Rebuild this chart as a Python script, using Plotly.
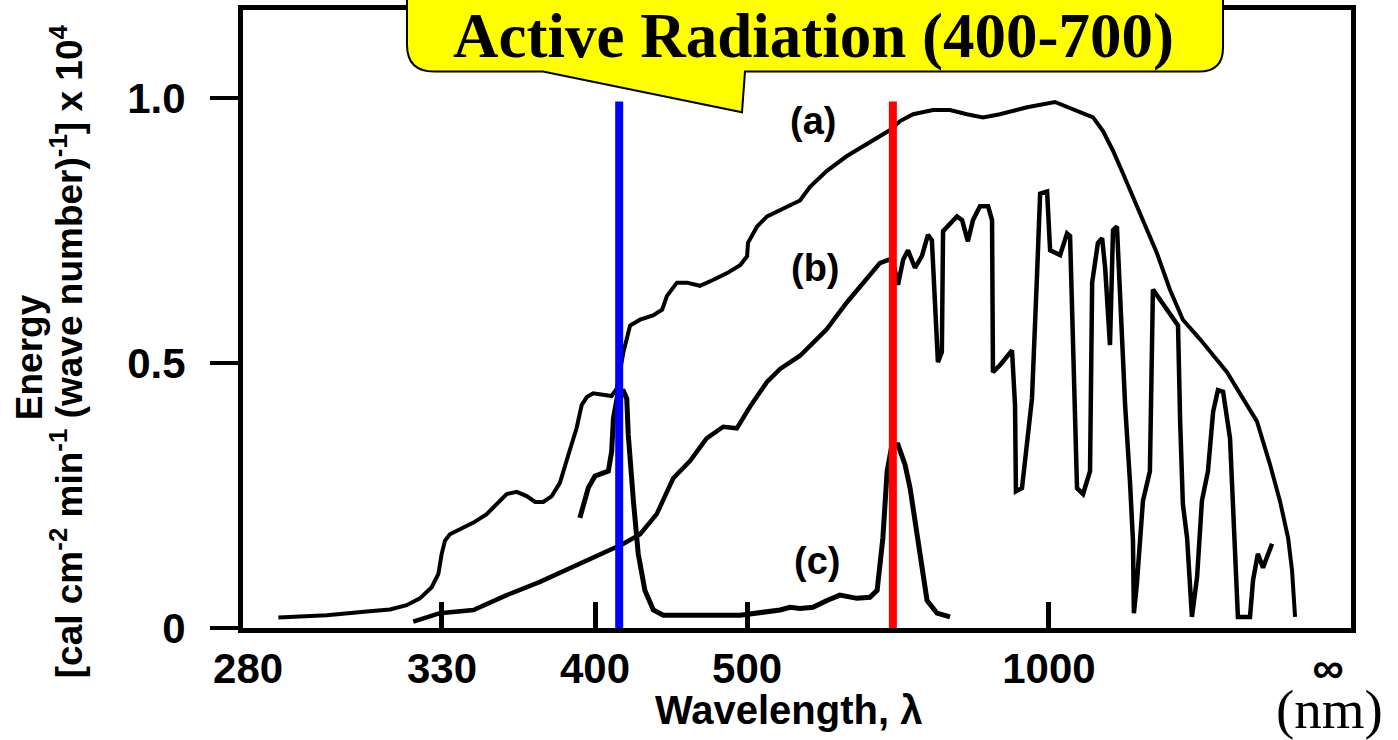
import plotly.graph_objects as go

# ---- data (x = wave number, 1/um ; y = energy, x10^4 units) ----
wn_a = [3.547, 3.387, 3.255, 3.178, 3.123, 3.079, 3.040, 3.018, 3.007, 2.996, 2.980, 2.946,
        2.902, 2.858, 2.814, 2.792, 2.759, 2.726, 2.698, 2.671, 2.643, 2.616, 2.588, 2.561,
        2.544, 2.527, 2.506, 2.478, 2.445, 2.428, 2.406, 2.384, 2.351, 2.308, 2.278, 2.262,
        2.229, 2.196, 2.153, 2.110, 2.063, 2.020, 1.997, 1.994, 1.964, 1.931, 1.865, 1.822,
        1.789, 1.733, 1.667, 1.601, 1.524, 1.491, 1.448, 1.382, 1.326, 1.270, 1.217, 1.161,
        1.071, 0.979, 0.919, 0.853, 0.820, 0.787, 0.754, 0.721, 0.698, 0.642, 0.599, 0.556,
        0.499, 0.410, 0.357, 0.311, 0.268, 0.235, 0.208, 0.195, 0.185]
en_a = [0.020, 0.024, 0.031, 0.035, 0.043, 0.056, 0.077, 0.102, 0.140, 0.165, 0.177, 0.187,
        0.199, 0.215, 0.240, 0.253, 0.257, 0.249, 0.238, 0.238, 0.249, 0.274, 0.327, 0.377,
        0.421, 0.436, 0.443, 0.441, 0.438, 0.452, 0.521, 0.571, 0.582, 0.590, 0.601, 0.627,
        0.652, 0.652, 0.646, 0.657, 0.670, 0.685, 0.702, 0.727, 0.758, 0.777, 0.796, 0.807,
        0.833, 0.863, 0.891, 0.914, 0.940, 0.957, 0.970, 0.978, 0.978, 0.970, 0.964, 0.970,
        0.983, 0.993, 0.979, 0.964, 0.938, 0.901, 0.858, 0.815, 0.783, 0.708, 0.639, 0.582,
        0.545, 0.483, 0.433, 0.390, 0.309, 0.240, 0.170, 0.109, 0.021]

wn_b = [3.101, 3.013, 2.902, 2.792, 2.682, 2.572, 2.461, 2.406, 2.351, 2.296, 2.241, 2.186,
        2.131, 2.076, 2.031, 1.987, 1.932, 1.888, 1.822, 1.734, 1.668, 1.602, 1.558, 1.530,
        1.515, 1.498, 1.481, 1.465, 1.442, 1.419, 1.399, 1.386, 1.376, 1.366, 1.353, 1.349,
        1.303, 1.286, 1.267, 1.250, 1.227, 1.200, 1.187, 1.184, 1.161, 1.121, 1.111, 1.108,
        1.088, 1.071, 1.055, 1.038, 1.028, 1.005, 0.995, 0.962, 0.939, 0.929, 0.919, 0.906,
        0.886, 0.863, 0.856, 0.837, 0.823, 0.813, 0.797, 0.787, 0.774, 0.764, 0.747, 0.731,
        0.721, 0.718, 0.708, 0.688, 0.665, 0.655, 0.589, 0.572, 0.565, 0.556, 0.542, 0.526,
        0.509, 0.493, 0.473, 0.456, 0.440, 0.423, 0.400, 0.384, 0.374, 0.334, 0.324, 0.308,
        0.291, 0.261]
en_b = [0.012, 0.028, 0.034, 0.062, 0.087, 0.115, 0.143, 0.159, 0.177, 0.215, 0.283, 0.315,
        0.358, 0.380, 0.377, 0.418, 0.464, 0.489, 0.514, 0.564, 0.614, 0.658, 0.689, 0.695,
        0.693, 0.648, 0.695, 0.713, 0.680, 0.702, 0.742, 0.732, 0.609, 0.502, 0.521, 0.749,
        0.777, 0.770, 0.730, 0.770, 0.796, 0.796, 0.770, 0.483, 0.496, 0.524, 0.421, 0.258,
        0.264, 0.358, 0.433, 0.670, 0.820, 0.824, 0.713, 0.704, 0.745, 0.740, 0.545, 0.264,
        0.253, 0.296, 0.652, 0.727, 0.736, 0.680, 0.534, 0.751, 0.758, 0.614, 0.421, 0.277,
        0.165, 0.028, 0.084, 0.240, 0.296, 0.639, 0.582, 0.571, 0.390, 0.234, 0.170, 0.021,
        0.096, 0.240, 0.296, 0.408, 0.449, 0.446, 0.358, 0.170, 0.021, 0.021, 0.090, 0.140,
        0.114, 0.159]

wn_c = [2.550, 2.522, 2.500, 2.456, 2.445, 2.439, 2.423, 2.406, 2.395, 2.390, 2.373, 2.357,
        2.335, 2.307, 2.274, 2.020, 1.888, 1.855, 1.822, 1.779, 1.733, 1.690, 1.634, 1.591,
        1.567, 1.558, 1.548, 1.534, 1.518, 1.498, 1.475, 1.458, 1.435, 1.419, 1.402, 1.369,
        1.326]
en_c = [0.208, 0.265, 0.287, 0.296, 0.333, 0.396, 0.446, 0.447, 0.433, 0.365, 0.240, 0.140,
        0.071, 0.034, 0.024, 0.024, 0.034, 0.039, 0.037, 0.039, 0.052, 0.062, 0.056, 0.058,
        0.071, 0.114, 0.170, 0.296, 0.346, 0.346, 0.309, 0.264, 0.170, 0.109, 0.052, 0.028,
        0.021]

# PAR boundary markers (wave number) and their height
par_blue_wn = 2.42
par_red_wn = 1.515
par_top = 0.994

# tick labels (wavelength, nm) and their positions on the wave-number axis
tick_pos = [3.647, 3.006, 2.500, 1.997, 0.999, 0.076]
tick_text = ["280", "330", "400", "500", "1000", "<span style='font-size:44px'>\u221e</span>"]
tickmark_pos = [3.006, 2.500, 1.997, 0.999]

y_ticks = [0, 0.5, 1.0]
y_text = ["0", "0.5", "1.0"]

# ---- layout geometry (pixels) ----
W, H = 1398, 740
L, R, T, B = 243, 1351, 5, 628


def px(x):
    return (x - L) / (R - L)


def py(y):
    return (B - y) / (B - T)


fig = go.Figure()
fig.add_trace(go.Scatter(x=wn_a, y=en_a, mode="lines", line=dict(color="black", width=4), hoverinfo="skip"))
fig.add_trace(go.Scatter(x=wn_b, y=en_b, mode="lines", line=dict(color="black", width=4.5), hoverinfo="skip"))
fig.add_trace(go.Scatter(x=wn_c, y=en_c, mode="lines", line=dict(color="black", width=5), hoverinfo="skip"))
fig.add_trace(go.Scatter(x=[par_blue_wn, par_blue_wn], y=[0, par_top], mode="lines",
                         line=dict(color="#0000FF", width=8), hoverinfo="skip"))
fig.add_trace(go.Scatter(x=[par_red_wn, par_red_wn], y=[0, par_top], mode="lines",
                         line=dict(color="#FF0000", width=8), hoverinfo="skip"))

sans = "Liberation Sans, Arial, sans-serif"
serif = "Liberation Serif, Times New Roman, serif"

x_range = [(R - L) / 302.4, 0]
fig.update_xaxes(range=x_range, tickvals=tick_pos, ticktext=tick_text, ticks="",
                 showline=True, linecolor="black", linewidth=5, mirror=True,
                 showgrid=False, zeroline=False,
                 tickfont=dict(family=sans, size=42, color="black", weight="bold"),
                 ticklabelstandoff=0,
                 minor=dict(tickvals=tickmark_pos, ticks="inside", ticklen=26, tickwidth=5,
                            tickcolor="black", showgrid=False))
fig.update_yaxes(range=[0, (B - T) / 534], tickvals=y_ticks, ticktext=y_text, ticks="outside",
                 ticklen=28, tickwidth=4, tickcolor="black",
                 showline=True, linecolor="black", linewidth=5, mirror=True,
                 showgrid=False, zeroline=False,
                 tickfont=dict(family=sans, size=42, color="black", weight="bold"),
                 ticklabelstandoff=16)

# callout box
pts = lambda x, y: f"{px(x):.5f},{py(y):.5f}"
path = ("M " + pts(407, -40) + " L " + pts(407, 40) + " Q " + pts(407, 67) + " " + pts(434, 67)
        + " L " + pts(543, 67) + " L " + pts(742, 108) + " L " + pts(745, 67)
        + " L " + pts(1199, 67) + " Q " + pts(1223, 67) + " " + pts(1223, 43)
        + " L " + pts(1223, -40) + " Z")
fig.add_shape(type="path", path=path, xref="paper", yref="paper",
              fillcolor="#FFFF00", line=dict(color="black", width=2), layer="above")

annotations = [
    dict(text="<b>Active Radiation (400-700)</b>", x=px(813), y=py(31), xanchor="center", yanchor="middle",
         font=dict(family=serif, size=63, color="black")),
    dict(text="<b>(a)</b>", x=px(813), y=py(117), xanchor="center", yanchor="middle",
         font=dict(family=sans, size=38, color="black")),
    dict(text="<b>(b)</b>", x=px(815), y=py(265), xanchor="center", yanchor="middle",
         font=dict(family=sans, size=38, color="black")),
    dict(text="<b>(c)</b>", x=px(817), y=py(560), xanchor="center", yanchor="middle",
         font=dict(family=sans, size=38, color="black")),
    dict(text="<b>Wavelength, \u03bb</b>", x=px(788), y=py(711), xanchor="center", yanchor="middle",
         font=dict(family=sans, size=40, color="black")),
    dict(text="(nm)", x=px(1329), y=py(710), xanchor="center", yanchor="middle",
         font=dict(family=serif, size=55, color="black")),
    dict(text="<b>Energy</b>", x=px(29), y=py(355), xanchor="center", yanchor="middle", textangle=-90,
         font=dict(family=sans, size=37, color="black")),
    dict(text="<b>[cal cm<sup>-2</sup> min<sup>-1</sup> (wave number)<sup>-1</sup>] x 10<sup>4</sup></b>",
         x=px(67), y=py(349), xanchor="center", yanchor="middle", textangle=-90,
         font=dict(family=sans, size=37, color="black")),
]
for a in annotations:
    a.update(xref="paper", yref="paper", showarrow=False)

fig.update_layout(width=W, height=H, margin=dict(l=L, r=W - R, t=T, b=H - B),
                  paper_bgcolor="white", plot_bgcolor="white", showlegend=False,
                  annotations=annotations)

fig.write_html("out.html")
